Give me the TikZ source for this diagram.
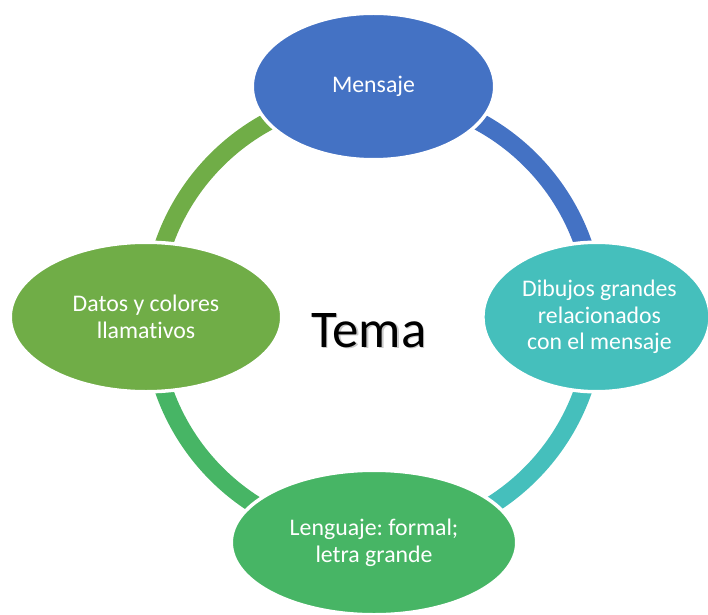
\documentclass[tikz,border=0pt]{standalone}
\usepackage{fontspec}
\setmainfont{Carlito}[Ligatures=CommonOff]
\frenchspacing
\usetikzlibrary{shapes.geometric}
\definecolor{cblue}{HTML}{4472C4}
\definecolor{cteal}{HTML}{45BFBC}
\definecolor{cgreen}{HTML}{47B565}
\definecolor{colive}{HTML}{70AD47}
\tikzset{
  blob/.style={ellipse, inner sep=0pt, draw=white, line width=3.5pt,
    text=white, align=center, font=\fontsize{23.8}{26.7}\selectfont},
  ring/.style={line width=18pt, line cap=butt}
}
\begin{document}
\frenchspacing
\begin{tikzpicture}[x=1pt,y=1pt]
\useasboundingbox (0,0) rectangle (708,614);
\coordinate (c) at (373.5,297);
% ring arcs
\draw[ring, cblue]  ([shift={(90:222)}]c) arc[start angle=90, end angle=0, radius=222];
\draw[ring, cteal]  ([shift={(0:222)}]c) arc[start angle=0, end angle=-90, radius=222];
\draw[ring, cgreen] ([shift={(-90:222)}]c) arc[start angle=-90, end angle=-180, radius=222];
\draw[ring, colive] ([shift={(180:222)}]c) arc[start angle=180, end angle=90, radius=222];
% nodes
\node[blob, fill=cblue, minimum width=242.5pt, minimum height=146.5pt] (top) at (373.5,527.5) {Mensaje};
\node[blob, fill=cteal, minimum width=226.5pt, minimum height=149.5pt] (right) at (596.5,297) {\hspace*{6pt}Dibujos grandes\\\hspace*{6pt}relacionados\\\hspace*{6pt}con el mensaje};
\node[blob, fill=cgreen, minimum width=285.5pt, minimum height=144.5pt] (bottom) at (374,71.5) {Lenguaje: formal;\\letra grande};
\node[blob, fill=colive, minimum width=271.5pt, minimum height=149.5pt] (left) at (146,297) {Datos y colores\\llamativos};
% centre title with soft shadow
\node[anchor=base, text=black!35, opacity=0.6, font=\fontsize{53}{60}\selectfont] (temashadow) at (370.5,265.5) {Tema};
\node[anchor=base, text=black, font=\fontsize{53}{60}\selectfont] (tema) at (369,267) {Tema};
\end{tikzpicture}
\end{document}
